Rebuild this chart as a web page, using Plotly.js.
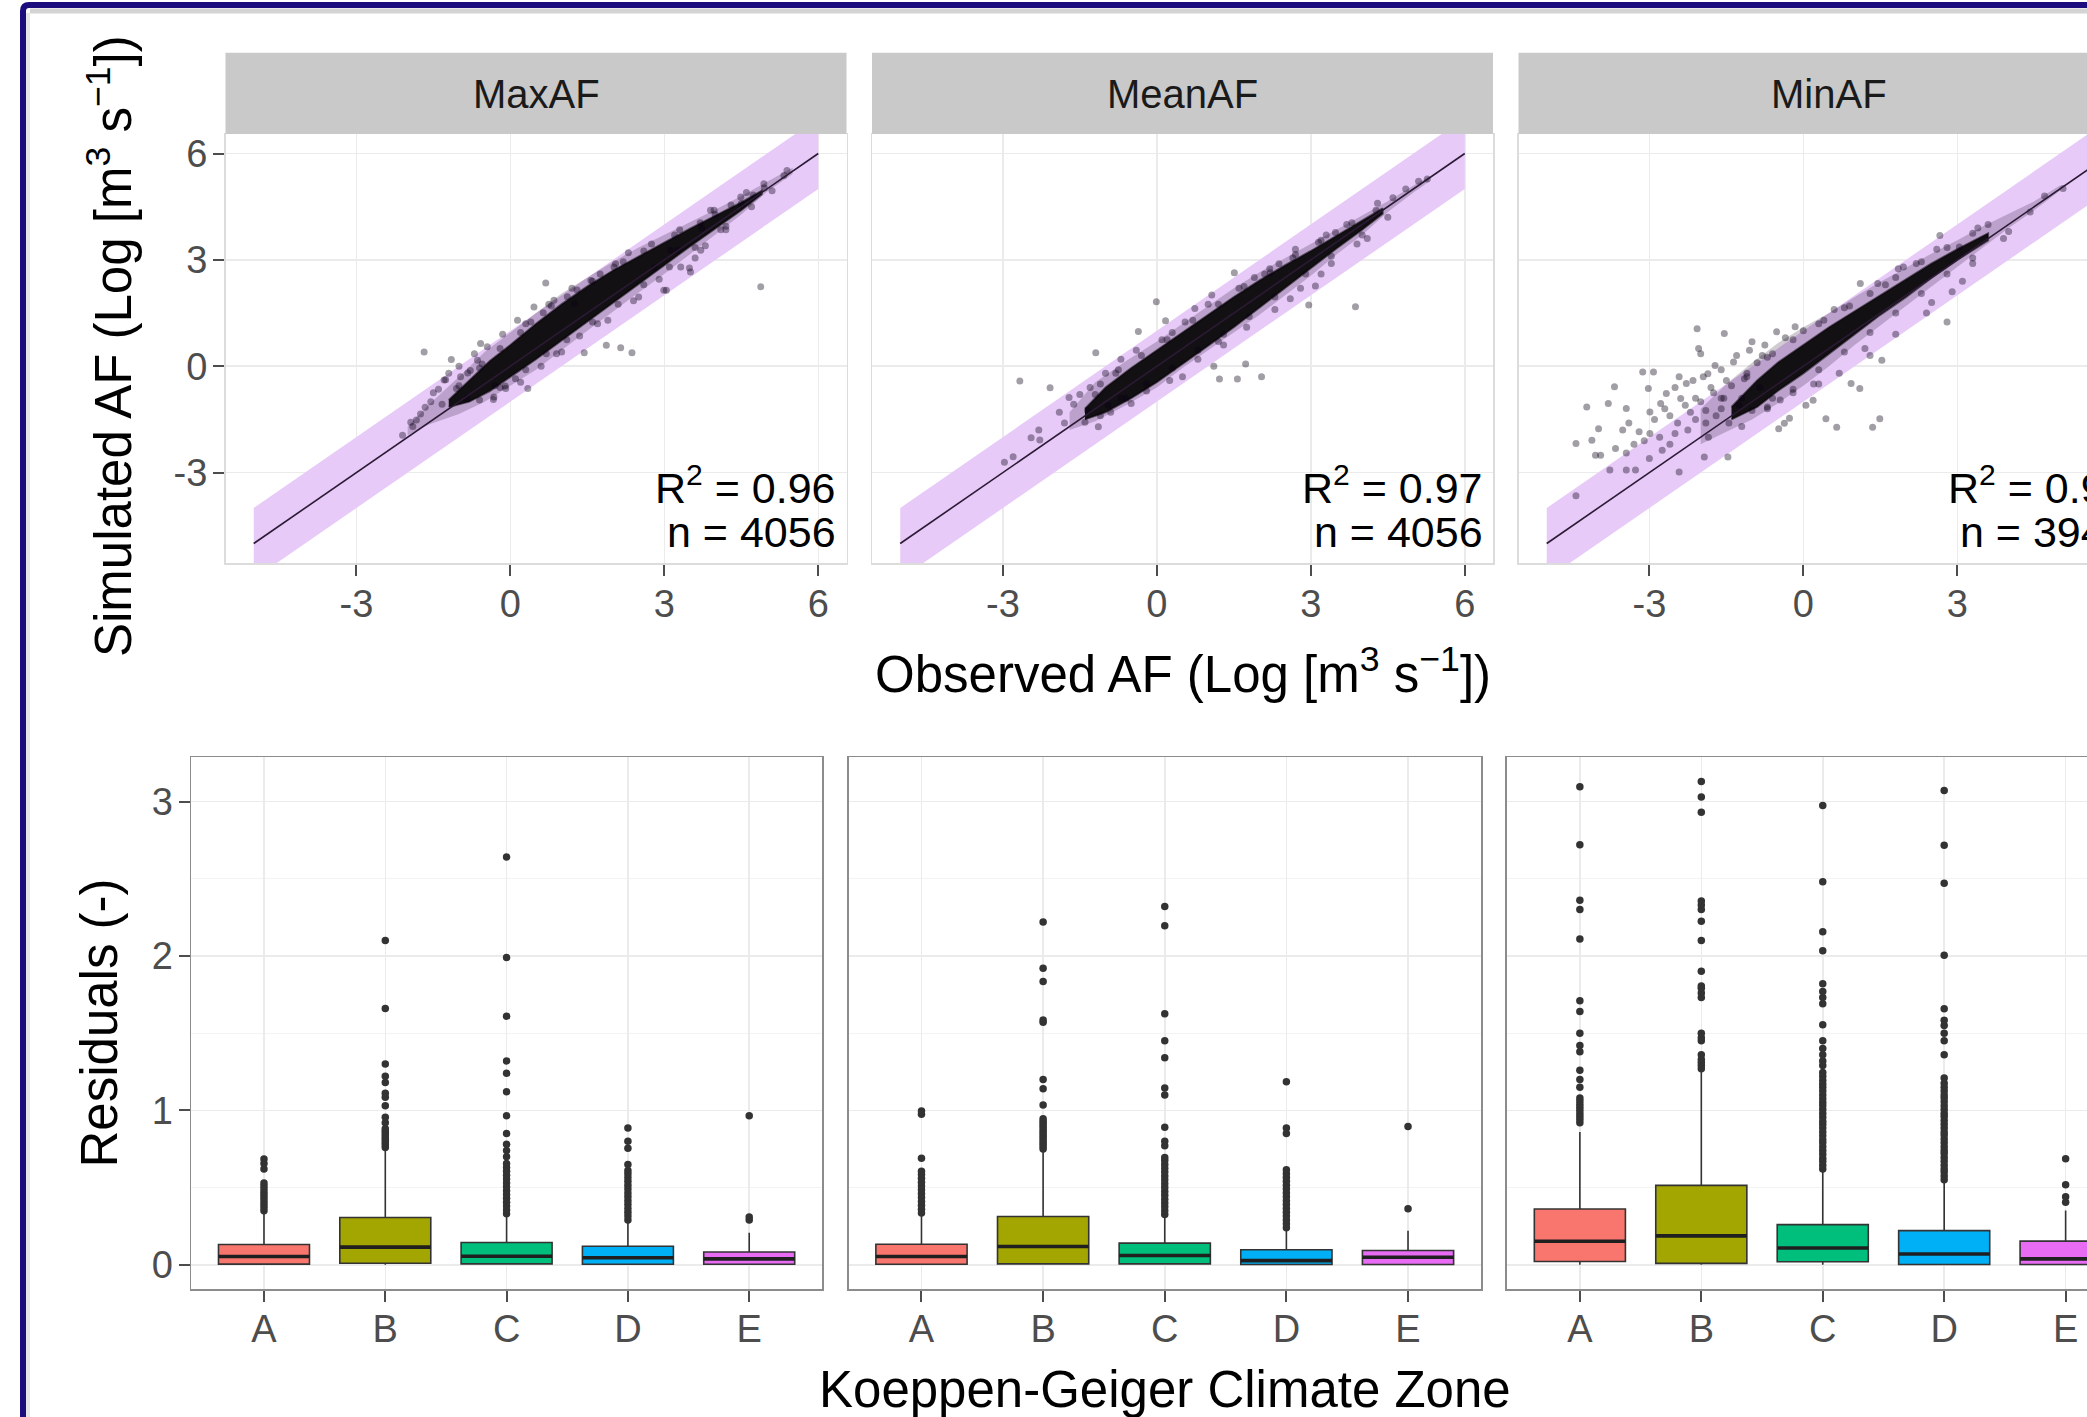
<!DOCTYPE html>
<html>
<head>
<meta charset="utf-8">
<script src="https://cdn.plot.ly/plotly-3.0.1.min.js"></script>
<style>
html,body{margin:0;padding:0;background:#fff;overflow:hidden;}
#wrap{width:2087px;height:1417px;overflow:hidden;position:relative;}
#chart{width:2165px;height:1417px;}
</style>
</head>
<body>
<div id="wrap"><div id="chart"></div></div>
<script>
// ---------------- DATA ----------------
const panels = ['MaxAF', 'MeanAF', 'MinAF'];
const r2Labels = ['0.96', '0.97', '0.93'];
const nLabels = ['4056', '4056', '3942'];
const axisTicks = [-3, 0, 3, 6];

// 1:1 line and +/-1 band
const lineX = [-5, 6];
const lineY = [-5, 6];
const bandX = [-5, 6];
const bandLow = [-6, 5];
const bandHigh = [-4, 7];

// MaxAF : outlines of the saturated point cloud (observed, simulated) and scattered points
const maxHaloObs = [-2.0,-1.6,-1.0,-0.5,0,0.5,1,1.5,2,2.5,3,3.5,4,4.5,5.0,5.5, 5.5,5.0,4.5,4,3.5,3,2.5,2,1.5,1,0.5,0,-0.5,-1.0,-1.6,-2.0];
const maxHaloSim = [-1.7,-1.1,-0.3,0.4,0.95,1.5,2.05,2.5,2.95,3.35,3.7,4.05,4.42,4.8,5.2,5.6, 5.42,4.92,4.28,3.72,3.15,2.6,2.08,1.55,1.0,0.45,-0.1,-0.55,-1.0,-1.35,-1.65,-1.95];
const maxCoreObs = [-1.2,-0.8,-0.4,0,0.5,1,1.5,2,2.5,3,3.5,4,4.5,4.9, 4.9,4.5,4,3.5,3,2.5,2,1.5,1,0.5,0,-0.4,-0.8,-1.2];
const maxCoreSim = [-0.95,-0.4,0.15,0.6,1.2,1.75,2.25,2.7,3.1,3.5,3.88,4.25,4.62,4.95, 4.85,4.4,3.9,3.38,2.85,2.32,1.8,1.25,0.72,0.2,-0.3,-0.7,-1.0,-1.15];
const maxObs = [-1.68,0.69,4.88,1.87,2.15,2.37,1.44,-1.15,-1.26,-1.66,-1.94,-1.83,-1.33,-1.05,-0.83,-0.55,-0.33,-0.10,0.34,0.64,1.25,3.49,3.04,2.05,3.99,4.50,4.95,5.33,4.73,3.73,3.26,2.81,-1.29,-0.97,-0.78,-0.58,-0.64,-0.32,-0.09,0.14,0.46,0.85,1.11,1.57,2.02,2.99,3.12,3.32,3.51,3.71,3.97,4.49,4.94,5.39,-2.1,-1.5,0.1,0.9,1.7,2.5,3.8,4.2,
  -1.9,-1.75,-1.55,-1.4,-1.2,-1.0,-0.85,-0.7,-0.45,-0.3,-0.15,0.2,0.3,0.6,0.75,1.0,1.2,1.35,1.75,1.9,2.3,2.4,2.75,2.9,3.3,3.6,3.9,4.2,4.6,5.1,
  -1.0,-0.6,-0.2,0.2,0.4,0.8,1.3,1.6,2.2,2.6,3.2,3.7,4.3,-0.6,-0.2,0.3,0.7,1.1,1.6,2.1,2.6,3.1,3.6,4.1,4.7];
const maxSim = [0.40,2.35,2.24,0.59,0.52,0.38,0.38,0.19,-0.38,-1.16,-1.58,-1.52,-1.07,-0.63,-0.19,0.06,-0.94,-0.56,-0.63,1.51,1.76,2.77,2.14,2.89,4.28,4.59,5.03,5.38,4.83,3.89,3.27,2.78,-0.39,-0.30,-0.12,0.64,0.17,-0.87,-0.63,1.30,1.67,1.86,1.96,2.42,2.80,2.14,3.27,2.80,2.66,3.27,4.40,4.77,5.15,5.52,-1.95,-0.75,-0.35,0.35,1.2,1.95,3.4,3.95,
  -1.7,-1.35,-1.0,-0.65,-0.2,0.0,-0.9,0.35,0.55,-0.55,0.9,-0.45,1.2,0.0,1.75,0.4,2.2,0.85,2.6,1.3,3.2,1.85,3.45,2.45,3.85,3.05,4.4,3.85,4.9,4.95,
  -0.55,-0.05,0.5,0.95,1.25,1.7,2.15,2.4,2.95,3.25,3.7,4.05,4.55,-0.95,-0.6,-0.1,0.35,0.75,1.25,1.75,2.3,2.8,3.35,3.85,4.5];

// MeanAF
const meanHaloObs = [-1.7,-1.2,-0.6,0,0.5,1,1.5,2,2.5,3,3.5,4,4.5,5,5.3, 5.3,5,4.5,4,3.5,3,2.5,2,1.5,1,0.5,0,-0.6,-1.2,-1.7];
const meanHaloSim = [-1.3,-0.45,0.15,0.7,1.2,1.7,2.2,2.65,3.05,3.45,3.85,4.25,4.65,5.1,5.35, 5.2,4.9,4.35,3.7,3.15,2.55,2.0,1.45,0.95,0.45,-0.05,-0.6,-1.1,-1.55,-1.8];
const meanCoreObs = [-1.4,-1.0,-0.5,0,0.5,1,1.5,2,2.5,3,3.5,4,4.4, 4.4,4,3.5,3,2.5,2,1.5,1,0.5,0,-0.5,-1.0,-1.4];
const meanCoreSim = [-1.2,-0.6,-0.05,0.45,0.95,1.45,1.95,2.42,2.85,3.25,3.68,4.1,4.45, 4.3,3.85,3.32,2.76,2.2,1.65,1.1,0.58,0.07,-0.45,-0.9,-1.3,-1.5];
const meanObs = [-2.67,-2.08,-2.97,-2.80,-2.45,-2.28,-1.71,-1.62,-1.40,-1.14,-1.19,-0.36,-0.01,0.17,0.74,1.07,1.51,1.11,1.22,1.57,1.73,2.04,2.96,3.09,3.87,2.21,2.38,3.48,4.27,5.10,5.27,-1.0,-0.7,-0.5,0.3,0.5,1.3,1.9,2.6,2.7,3.2,3.3,4.1,4.6,-1.3,-0.9,
  -2.3,-1.9,-1.8,-1.5,-1.35,-1.1,-0.95,-0.75,-0.6,-0.4,-0.2,0.1,0.25,0.55,0.8,1.0,1.2,1.6,1.75,2.1,2.3,2.65,2.8,3.15,3.4,3.7,3.9,4.3,4.5,4.85,
  -1.2,-0.8,-0.3,0.2,0.7,1.2,1.7,2.2,2.7,3.2,3.8,-1.1,-0.7,-0.2,0.3,0.8,1.3,1.8,2.3,2.9,3.4,4.0];
const meanSim = [-0.42,-0.61,-2.71,-2.55,-2.02,-2.08,-0.88,-1.07,-1.58,-1.71,0.38,0.98,1.82,1.28,1.63,2.01,2.64,0.00,-0.36,-0.36,0.06,-0.30,1.73,2.26,1.68,2.64,2.89,3.77,4.40,5.22,5.28,-0.2,0.2,-1.05,0.95,-0.3,0.6,2.5,1.9,3.3,2.6,3.7,3.6,4.75,-0.6,-1.3,
  -1.8,-1.3,-1.6,-0.8,-1.25,-0.5,-1.1,-0.1,-0.9,0.45,-0.7,0.75,-0.4,1.25,0.2,1.75,0.7,2.2,1.1,2.6,1.6,3.05,2.2,3.5,2.9,4.0,3.45,4.6,4.2,5.0,
  -0.8,-0.2,0.3,0.75,1.3,1.75,2.25,2.75,3.15,3.55,4.05,-1.4,-0.9,-0.5,-0.05,0.45,0.9,1.4,1.95,2.6,3.1,3.7];

// MinAF
const minHaloObs = [-2.0,-1.5,-1,-0.5,0,0.5,1,1.5,2,2.5,3,3.5,4,4.5,5.0, 5.0,4.5,4,3.5,3,2.5,2,1.5,1,0.5,0,-0.5,-1,-1.5,-2.0];
const minHaloSim = [-1.2,-0.5,0.1,0.65,1.1,1.5,1.95,2.38,2.78,3.18,3.55,3.95,4.3,4.65,5.1, 4.95,4.4,3.9,3.35,2.8,2.25,1.7,1.15,0.6,0.0,-0.55,-1.05,-1.5,-1.85,-2.2];
const minCoreObs = [-1.4,-0.9,-0.5,0,0.5,1,1.5,2,2.5,3,3.6, 3.6,3,2.5,2,1.5,1,0.5,0,-0.5,-0.9,-1.4];
const minCoreSim = [-1.15,-0.4,0.1,0.6,1.1,1.55,2.0,2.45,2.9,3.3,3.75, 3.55,3.0,2.5,1.95,1.45,0.9,0.35,-0.2,-0.7,-1.15,-1.5];
const minObs = [-4.43,-4.43,-4.22,-4.12,-4.05,-3.95,-3.99,-3.80,-3.77,-3.68,-3.66,-3.52,-3.45,-3.45,-3.45,-3.27,-3.20,-3.13,-2.92,-3.02,-2.99,-2.99,-2.78,-2.75,-2.67,-2.42,-2.42,-2.39,-2.28,-2.07,-2.04,-2.00,-1.93,-1.86,-1.72,-1.54,-1.47,-1.36,-1.00,-0.52,-0.48,-0.37,-0.27,-0.16,0.05,0.19,0.44,0.65,0.93,1.10,1.11,1.35,1.49,1.45,1.53,1.85,1.95,2.66,2.80,2.90,3.04,4.42,5.06,-3.3,-3.0,-2.6,-2.5,-2.2,-2.1,-1.9,-1.8,-1.6,-1.5,-1.2,-1.1,-0.8,-0.6,0.3,0.6,1.2,2.2,2.5,3.3,3.6,4.0,4.7,
  -3.4,-3.1,-2.9,-2.8,-2.7,-2.6,-2.5,-2.45,-2.3,-2.25,-2.15,-2.1,-2.0,-1.95,-1.9,-1.85,-1.75,-1.7,-1.6,-1.55,-1.45,-1.4,-1.3,-1.25,-1.15,-1.05,-1.0,-0.9,-0.85,-0.75,-0.7,-0.6,-0.45,-0.35,-0.2,0.0,0.2,0.4,0.7,0.9,1.3,1.6,1.8,2.4,2.6,3.1,3.4,
  -1.6,-1.1,-0.7,-0.2,0.3,0.8,1.3,1.8,2.3,2.8,3.3,-1.2,-0.7,-0.2,0.3,0.8,1.3,1.8,2.3,2.8,3.3,3.9];
const minSim = [-3.65,-2.18,-1.15,-2.09,-2.51,-2.51,-1.76,-1.05,-2.93,-0.58,-2.32,-1.80,-1.19,-2.93,-2.45,-2.93,-1.85,-0.16,-0.16,-0.63,-1.29,-1.90,-1.05,-2.37,-0.77,-2.98,-0.30,-0.91,-0.49,1.06,0.50,0.35,-2.56,-0.21,0.02,0.92,-2.56,0.12,0.69,0.97,-1.76,-1.61,-1.47,1.11,-1.10,-0.96,-1.48,-1.72,-0.49,-0.63,2.33,-1.72,-1.48,2.33,0.17,2.75,2.80,3.69,1.25,2.10,3.36,4.35,5.01,-2.2,-2.6,-1.4,-1.9,-1.3,-0.9,-1.6,-0.6,-1.2,-0.4,-0.9,-0.2,0.3,-0.9,-0.5,1.6,0.5,2.9,1.8,2.9,4.0,3.8,4.8,
  -1.6,-2.1,-1.5,-2.0,-1.2,-2.2,-0.6,-1.6,-1.1,-1.8,-0.4,-1.5,-1.0,-0.3,-1.25,-2.0,-0.75,-1.4,-0.1,-0.9,-1.6,-0.55,0.3,-1.1,-0.35,0.45,-1.25,0.1,-0.6,0.6,-1.2,0.35,-0.95,0.8,-0.75,1.0,-0.5,1.3,-0.2,1.7,0.3,2.3,0.9,1.5,3.3,2.4,3.9,
  -0.9,-0.3,0.25,0.75,1.2,1.65,2.05,2.5,2.95,3.35,3.75,-1.7,-1.15,-0.65,-0.1,0.4,0.95,1.5,2.05,2.6,3.05,3.6];

// Box plots: residuals by Koeppen-Geiger zone
const zones = ['A', 'B', 'C', 'D', 'E'];
const zoneColors = ['#F8766D', '#A3A500', '#00BF7D', '#00B0F6', '#E76BF3'];
const maxQ1 = [0.004, 0.010, 0.006, 0.003, 0.003];
const maxMed = [0.053, 0.114, 0.055, 0.045, 0.038];
const maxQ3 = [0.131, 0.306, 0.144, 0.120, 0.083];
const maxLo = [0, 0, 0, 0, 0];
const maxHi = [0.33, 0.745, 0.32, 0.282, 0.208];
const maxOut = [
  [0.35,0.37,0.39,0.41,0.43,0.45,0.47,0.49,0.51,0.53,0.62,0.655,0.685],
  [0.76,0.775,0.79,0.805,0.82,0.835,0.85,0.865,0.88,0.92,0.955,1.03,1.085,1.11,1.18,1.22,1.30,1.66,2.10],
  [0.33,0.355,0.38,0.405,0.43,0.455,0.48,0.505,0.53,0.555,0.58,0.605,0.63,0.655,0.70,0.74,0.78,0.85,0.965,1.12,1.24,1.32,1.61,1.99,2.64],
  [0.29,0.315,0.34,0.365,0.39,0.415,0.44,0.465,0.49,0.515,0.54,0.565,0.59,0.61,0.65,0.755,0.80,0.885],
  [0.29,0.31,0.965]
];
const meanQ1 = [0.003, 0.006, 0.006, 0.002, 0.002];
const meanMed = [0.053, 0.118, 0.060, 0.027, 0.049];
const meanQ3 = [0.133, 0.313, 0.140, 0.097, 0.092];
const meanLo = [0, 0, 0, 0, 0];
const meanHi = [0.323, 0.74, 0.32, 0.232, 0.22];
const meanOut = [
  [0.335,0.36,0.385,0.41,0.435,0.46,0.485,0.51,0.535,0.56,0.585,0.605,0.69,0.975,0.995],
  [0.75,0.765,0.78,0.795,0.81,0.825,0.84,0.855,0.87,0.885,0.90,0.915,0.93,0.945,1.035,1.14,1.20,1.57,1.585,1.835,1.92,2.22],
  [0.325,0.35,0.375,0.40,0.425,0.45,0.475,0.50,0.525,0.55,0.575,0.60,0.625,0.65,0.675,0.695,0.77,0.80,0.89,1.10,1.145,1.34,1.45,1.625,2.195,2.32],
  [0.24,0.265,0.29,0.315,0.34,0.365,0.39,0.415,0.44,0.465,0.49,0.515,0.54,0.565,0.59,0.615,0.85,0.885,1.185],
  [0.362,0.896]
];
const minQ1 = [0.021, 0.009, 0.019, 0.002, 0.002];
const minMed = [0.152, 0.187, 0.109, 0.070, 0.038];
const minQ3 = [0.361, 0.514, 0.260, 0.221, 0.153];
const minLo = [0, 0, 0, 0, 0];
const minHi = [0.86, 1.257, 0.61, 0.54, 0.351];
const minOut = [
  [0.92,0.94,0.96,0.98,1.00,1.02,1.04,1.06,1.08,1.15,1.20,1.26,1.38,1.42,1.50,1.64,1.71,2.11,2.30,2.36,2.72,3.095],
  [1.27,1.29,1.31,1.33,1.36,1.45,1.47,1.50,1.73,1.76,1.79,1.805,1.90,2.10,2.224,2.30,2.33,2.355,2.93,3.03,3.13],
  [0.62,0.645,0.67,0.69,0.715,0.74,0.765,0.79,0.81,0.835,0.86,0.885,0.91,0.93,0.955,0.98,1.005,1.03,1.05,1.075,1.10,1.125,1.15,1.17,1.195,1.22,1.245,1.29,1.32,1.36,1.40,1.45,1.554,1.69,1.73,1.77,1.82,2.034,2.156,2.48,2.974],
  [0.55,0.575,0.60,0.62,0.645,0.67,0.695,0.72,0.74,0.765,0.79,0.815,0.84,0.86,0.885,0.91,0.935,0.96,0.98,1.005,1.03,1.055,1.08,1.10,1.125,1.15,1.175,1.21,1.36,1.45,1.50,1.55,1.584,1.658,2.005,2.47,2.716,3.072],
  [0.405,0.44,0.518,0.686]
];

// ---------------- LAYOUT GEOMETRY (pixels of the full figure) ----------------
const W = 2165, H = 1417;
const px = v => v / W;
const py = v => 1 - v / H;
const topX = [[225.5, 846.5], [872, 1493], [1518.5, 2139.5]];
const topY = [134, 563];
const stripY = [52.7, 134];
const botX = [[191.2, 822], [848.5, 1481], [1507, 2138.5]];
const botY = [757.2, 1289];

const FONT = 'Liberation Sans, Arial, Helvetica, sans-serif';
const tickFont = {family: FONT, size: 38, color: '#4d4d4d'};

const scatterSets = [
  {halo: [maxHaloObs, maxHaloSim], core: [maxCoreObs, maxCoreSim], pts: [maxObs, maxSim]},
  {halo: [meanHaloObs, meanHaloSim], core: [meanCoreObs, meanCoreSim], pts: [meanObs, meanSim]},
  {halo: [minHaloObs, minHaloSim], core: [minCoreObs, minCoreSim], pts: [minObs, minSim]}
];
const boxSets = [
  {q1: maxQ1, med: maxMed, q3: maxQ3, lo: maxLo, hi: maxHi, out: maxOut},
  {q1: meanQ1, med: meanMed, q3: meanQ3, lo: meanLo, hi: meanHi, out: meanOut},
  {q1: minQ1, med: minMed, q3: minQ3, lo: minLo, hi: minHi, out: minOut}
];

const traces = [];
const layout = {
  width: W, height: H,
  margin: {l: 0, r: 0, t: 0, b: 0},
  paper_bgcolor: '#ffffff', plot_bgcolor: '#ffffff',
  showlegend: false,
  font: {family: FONT, color: '#000'},
  annotations: [], shapes: []
};

const bandPolyX = bandX.concat(bandX.slice().reverse());
const bandPolyY = bandLow.concat(bandHigh.slice().reverse());

// top scatter panels
for (let p = 0; p < 3; p++) {
  const xa = 'x' + (p === 0 ? '' : p + 1);
  const ya = 'y' + (p === 0 ? '' : p + 1);
  const xKey = 'xaxis' + (p === 0 ? '' : p + 1);
  const yKey = 'yaxis' + (p === 0 ? '' : p + 1);
  const s = scatterSets[p];
  traces.push({type: 'scatter', x: bandPolyX, y: bandPolyY, xaxis: xa, yaxis: ya, mode: 'lines',
    fill: 'toself', fillcolor: '#E7CAF8', line: {width: 0}, hoverinfo: 'skip'});
  traces.push({type: 'scatter', x: s.halo[0], y: s.halo[1], xaxis: xa, yaxis: ya, mode: 'lines',
    fill: 'toself', fillcolor: 'rgba(20,0,30,0.2)', line: {width: 0}, hoverinfo: 'skip'});
  traces.push({type: 'scatter', x: s.core[0], y: s.core[1], xaxis: xa, yaxis: ya, mode: 'lines',
    fill: 'toself', fillcolor: 'rgba(0,0,0,0.9)', line: {width: 2, color: 'rgba(0,0,0,0.55)'}, hoverinfo: 'skip'});
  traces.push({type: 'scatter', x: s.pts[0], y: s.pts[1], xaxis: xa, yaxis: ya, mode: 'markers',
    marker: {size: 7, color: 'rgba(10,0,20,0.38)'}, hoverinfo: 'skip'});
  traces.push({type: 'scatter', x: lineX, y: lineY, xaxis: xa, yaxis: ya, mode: 'lines',
    line: {color: '#2a1a33', width: 1.6}, hoverinfo: 'skip'});

  layout[xKey] = {
    domain: [px(topX[p][0]), px(topX[p][1])], anchor: ya, range: [-5.55, 6.55],
    tickvals: axisTicks, ticktext: axisTicks.map(String), tickfont: tickFont,
    ticks: 'outside', ticklen: 11, tickwidth: 2, tickcolor: '#4d4d4d', ticklabelstandoff: -4,
    showgrid: true, gridcolor: '#ebebeb', gridwidth: 1.5, zeroline: false,
    showline: true, mirror: true, linecolor: '#dcdcdc', linewidth: 1.5, automargin: false, fixedrange: true
  };
  const yAx = {
    domain: [py(topY[1]), py(topY[0])], anchor: xa, range: [-5.55, 6.55],
    tickvals: axisTicks, showgrid: true, gridcolor: '#ebebeb', gridwidth: 1.5, zeroline: false,
    showline: true, mirror: true, linecolor: '#dcdcdc', linewidth: 1.5, automargin: false, fixedrange: true
  };
  if (p === 0) {
    Object.assign(yAx, {ticktext: axisTicks.map(String), tickfont: tickFont, ticks: 'outside', ticklen: 11,
      tickwidth: 2, tickcolor: '#4d4d4d', ticklabelstandoff: -2, showticklabels: true});
  } else {
    Object.assign(yAx, {ticks: '', showticklabels: false});
  }
  layout[yKey] = yAx;
  // strip
  layout.shapes.push({type: 'rect', xref: xa + ' domain', yref: 'paper', x0: 0, x1: 1,
    y0: py(stripY[1]), y1: py(stripY[0]), fillcolor: '#C9C9C9', line: {width: 0}, layer: 'above'});
  layout.annotations.push({text: panels[p], xref: 'paper', yref: 'paper',
    x: px((topX[p][0] + topX[p][1]) / 2), y: py(94), xanchor: 'center', yanchor: 'middle',
    showarrow: false, font: {family: FONT, size: 40, color: '#1a1a1a'}});
  layout.annotations.push({text: 'R<sup>2</sup> = ' + r2Labels[p], xref: 'paper', yref: 'paper',
    x: px(topX[p][1] - 8.5), y: py(514), xanchor: 'right', yanchor: 'bottom',
    showarrow: false, font: {family: FONT, size: 43, color: '#000'}});
  layout.annotations.push({text: 'n = ' + nLabels[p], xref: 'paper', yref: 'paper',
    x: px(topX[p][1] - 8.5), y: py(558), xanchor: 'right', yanchor: 'bottom',
    showarrow: false, font: {family: FONT, size: 43, color: '#000'}});
}

// bottom box panels
const halfBox = 0.375;
for (let p = 0; p < 3; p++) {
  const n = p + 4;
  const xa = 'x' + n, ya = 'y' + n;
  const b = boxSets[p];
  for (let i = 0; i < zones.length; i++) {
    traces.push({type: 'box', x: [i], q1: [b.q1[i]], median: [b.med[i]], q3: [b.q3[i]],
      lowerfence: [b.lo[i]], upperfence: [b.hi[i]], xaxis: xa, yaxis: ya,
      width: 2 * halfBox, whiskerwidth: 0, fillcolor: zoneColors[i],
      line: {color: '#333333', width: 1.6}, boxpoints: false, hoverinfo: 'skip'});
    traces.push({type: 'scatter', mode: 'lines', x: [i - halfBox, i + halfBox], y: [b.med[i], b.med[i]],
      xaxis: xa, yaxis: ya, line: {color: '#1f1f1f', width: 3.6}, hoverinfo: 'skip'});
    traces.push({type: 'scatter', mode: 'markers', x: b.out[i].map(() => i), y: b.out[i],
      xaxis: xa, yaxis: ya, marker: {size: 7.5, color: '#333333'}, hoverinfo: 'skip'});
  }
  layout['xaxis' + n] = {
    domain: [px(botX[p][0]), px(botX[p][1])], anchor: ya, range: [-0.6, 4.6],
    tickvals: [0, 1, 2, 3, 4], ticktext: zones, tickfont: tickFont,
    ticks: 'outside', ticklen: 11, tickwidth: 2, tickcolor: '#4d4d4d', ticklabelstandoff: -5,
    showgrid: true, gridcolor: '#ebebeb', gridwidth: 1.5, zeroline: false,
    showline: true, mirror: true, linecolor: '#8c8c8c', linewidth: 1.6, automargin: false, fixedrange: true
  };
  const yAx = {
    domain: [py(botY[1]), py(botY[0])], anchor: xa, range: [-0.157, 3.287],
    tickvals: [0, 1, 2, 3],
    minor: {tickvals: [0.5, 1.5, 2.5], showgrid: true, gridcolor: '#f3f3f3', gridwidth: 1.2, ticks: ''},
    showgrid: true, gridcolor: '#ebebeb', gridwidth: 1.5, zeroline: false,
    showline: true, mirror: true, linecolor: '#8c8c8c', linewidth: 1.6, automargin: false, fixedrange: true
  };
  if (p === 0) {
    Object.assign(yAx, {ticktext: ['0', '1', '2', '3'], tickfont: tickFont, ticks: 'outside', ticklen: 11,
      tickwidth: 2, tickcolor: '#4d4d4d', ticklabelstandoff: -2, showticklabels: true});
  } else {
    Object.assign(yAx, {ticks: '', showticklabels: false});
  }
  layout['yaxis' + n] = yAx;
}

// axis titles
const titleFont = {family: FONT, size: 51, color: '#000'};
layout.annotations.push({text: 'Observed AF (Log [m<sup>3</sup> s<sup>\u22121</sup>])', xref: 'paper', yref: 'paper',
  x: px(1182.5), y: py(705), xanchor: 'center', yanchor: 'bottom', showarrow: false, font: titleFont});
layout.annotations.push({text: 'Simulated AF (Log [m<sup>3</sup> s<sup>\u22121</sup>])', xref: 'paper', yref: 'paper',
  x: px(110), y: py(346), xanchor: 'center', yanchor: 'middle', textangle: -90, showarrow: false, font: titleFont});
layout.annotations.push({text: 'Residuals (-)', xref: 'paper', yref: 'paper',
  x: px(99), y: py(1023.5), xanchor: 'center', yanchor: 'middle', textangle: -90, showarrow: false, font: titleFont});
layout.annotations.push({text: 'Koeppen-Geiger Climate Zone', xref: 'paper', yref: 'paper',
  x: px(1164.8), y: py(1419.5), xanchor: 'center', yanchor: 'bottom', showarrow: false, font: titleFont});

// outer frame
layout.shapes.push({type: 'line', xref: 'paper', yref: 'paper', x0: px(30), x1: px(2200), y0: py(11), y1: py(11),
  line: {color: '#d4d4d4', width: 5}, layer: 'above'});
layout.shapes.push({type: 'line', xref: 'paper', yref: 'paper', x0: px(28), x1: px(28), y0: py(13), y1: py(1500),
  line: {color: '#e6e6e6', width: 4}, layer: 'above'});
layout.shapes.push({type: 'path', xref: 'paper', yref: 'paper',
  path: 'M ' + px(23) + ' ' + py(1500) + ' L ' + px(23) + ' ' + py(11) + ' Q ' + px(23) + ' ' + py(5) + ' ' + px(29) + ' ' + py(5) + ' L ' + px(2200) + ' ' + py(5),
  line: {color: '#1b0d7e', width: 6}, layer: 'above'});

Plotly.newPlot('chart', traces, layout, {staticPlot: true, displayModeBar: false});
</script>
</body>
</html>
